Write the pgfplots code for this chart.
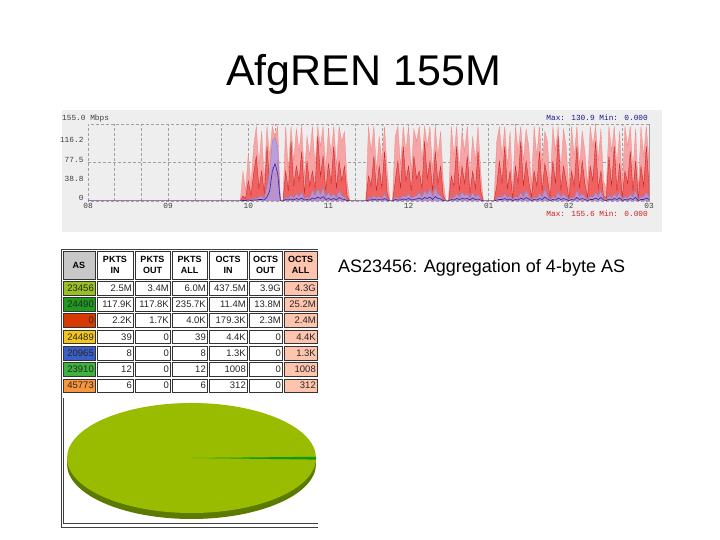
\documentclass[border=0pt]{standalone}
\usepackage{fontspec}
\setmainfont{Liberation Sans}
\newfontfamily\monof{Liberation Mono}
\usepackage{pgfplots}
\pgfplotsset{compat=1.18}
\usepackage{pgfplotstable}

\definecolor{chartbg}{HTML}{EEEEEE}
\definecolor{gridc}{HTML}{A0A0A0}
\definecolor{pinkf}{HTML}{F5A5A5}
\definecolor{redf}{HTML}{F06262}
\definecolor{redl}{HTML}{C82424}
\definecolor{bluef}{HTML}{AC9EEA}
\definecolor{bluel}{HTML}{3C1E96}
\definecolor{maxblue}{HTML}{1A1A8C}
\definecolor{maxred}{HTML}{CC2222}
\definecolor{asA}{HTML}{99C020}
\definecolor{asB}{HTML}{1F9A1F}
\definecolor{asC}{HTML}{D63A00}
\definecolor{asD}{HTML}{F5C518}
\definecolor{asE}{HTML}{3A5FC8}
\definecolor{asF}{HTML}{3CB33C}
\definecolor{asG}{HTML}{F7963C}
\definecolor{hdrgray}{HTML}{C8C8C8}
\definecolor{salmon}{HTML}{FFC4AE}
\definecolor{pietop}{HTML}{99BB00}
\definecolor{pieside}{HTML}{5C7A00}
\definecolor{slice}{HTML}{119911}

% minutes after 08:00; red max, red avg, blue max, blue avg (Mbps)
\pgfplotstableread{
t rmax ravg bmax bavg
0 0 0 0 0
114 0 0 0 0
116 60 10 2 1
118 20 5 1 1
120 95 40 4 2
122 30 12 2 1
124 110 55 6 2
126 150 90 5 2
128 70 25 8 3
130 140 60 10 3
132 40 15 5 2
134 150 110 30 8
136 90 35 60 20
138 150 70 120 60
140 130 50 128 75
142 150 80 110 55
144 0 0 0 0
146 0 0 0 0
148 150 60 8 3
150 60 20 5 2
152 150 120 12 4
154 80 30 6 2
156 145 70 15 5
158 100 40 9 3
160 150 100 18 6
162 50 15 5 2
164 130 80 8 3
166 90 30 6 2
168 150 60 22 6
170 70 25 11 4
172 150 130 25 8
174 110 50 14 5
176 150 90 28 9
178 60 20 8 3
180 145 75 18 5
182 95 35 9 3
184 150 110 15 5
186 70 25 6 2
188 150 80 22 7
190 120 40 11 4
192 140 70 8 3
194 40 10 3 1
196 0 0 0 0
208 0 0 0 0
210 150 50 6 2
212 100 30 5 2
214 150 90 11 4
216 60 20 6 2
218 130 70 9 3
220 80 25 5 2
222 150 100 15 5
224 60 15 4 2
226 0 0 0 0
228 0 0 0 0
230 130 40 8 3
232 150 80 6 2
234 70 25 5 2
236 150 110 11 4
238 100 40 8 3
240 150 70 15 5
242 60 20 6 2
244 145 90 9 3
246 120 45 11 4
248 150 60 18 6
250 80 25 8 3
252 150 120 22 7
254 110 45 13 5
256 150 80 25 8
258 60 20 9 3
260 150 100 28 9
262 90 35 14 5
264 140 70 11 4
266 40 10 3 1
268 0 0 0 0
270 0 0 0 0
272 150 50 8 3
274 90 30 6 2
276 150 110 15 5
278 60 20 8 3
280 140 70 18 5
282 100 35 11 4
284 150 90 15 5
286 50 15 5 2
288 130 60 18 6
290 80 25 8 3
292 150 100 13 4
294 60 20 5 2
296 0 0 0 0
304 0 0 0 0
306 120 30 6 2
308 150 80 9 3
310 90 35 8 3
312 150 110 15 5
314 70 25 6 2
316 140 60 11 4
318 20 5 3 1
320 150 70 9 3
322 100 35 6 2
324 150 120 18 6
326 80 30 8 3
328 145 80 22 7
330 110 40 11 4
332 30 8 3 1
334 150 60 8 3
336 90 30 6 2
338 150 100 15 5
340 70 20 8 3
342 140 75 25 8
344 120 45 11 4
346 25 6 3 1
348 150 80 9 3
350 100 35 6 2
352 150 130 18 6
354 60 20 8 3
356 145 70 15 5
358 110 40 9 3
360 20 5 3 1
362 150 60 8 3
364 90 30 6 2
366 150 110 22 7
368 70 25 9 3
370 140 80 15 5
372 100 35 8 3
374 30 8 3 1
376 150 70 9 3
378 110 40 8 3
380 150 120 18 6
382 80 25 9 3
384 145 60 22 7
386 40 10 4 2
388 25 6 3 1
390 150 90 11 4
392 100 30 6 2
394 150 110 15 5
396 70 20 8 3
398 140 75 18 6
400 30 8 3 1
402 150 60 9 3
404 110 35 6 2
406 150 100 15 5
408 60 20 8 3
410 145 80 22 7
412 20 5 3 1
414 150 70 9 3
416 90 30 8 3
418 150 110 18 6
420 80 30 8 3
}\traffic

\tikzset{
  cellline/.style={draw=black!80, line width=0.5pt},
  cellt/.style={anchor=east, inner sep=0.5pt, text=black!85, font=\fontsize{9.5}{10}\selectfont},
  hdrt/.style={align=center, inner sep=0pt, font=\bfseries\fontsize{9}{10.5}\selectfont}
}

\begin{document}
\begin{tikzpicture}
\path[use as bounding box, fill=white] (0,0) rectangle (720pt,540pt);
\begin{scope}[shift={(0pt,540pt)}, x=1pt, y=-1pt]
  % titles
  \node[anchor=base, inner sep=0pt, font=\fontsize{43}{50}\selectfont] at (363.5,86) {AfgREN 155M};
  \node[anchor=base west, inner sep=0pt, font=\fontsize{18}{21}\selectfont] at (338,273) {AS23456: Aggregation of 4-byte AS};
  % chart background
  \fill[chartbg] (62,110) rectangle (662,232);
  % outer frame of table and pie
  \draw[black!75, line width=0.5pt] (318,249) -- (61.5,249) -- (61.5,527) -- (318,527);
  \draw[black!75, line width=0.5pt] (63.5,398) -- (63.5,523.5) -- (318,523.5);
  % header row
  \filldraw[fill=hdrgray, cellline] (63,251) rectangle (95,279);
  \node[hdrt] at (79,265) {AS};
  \foreach \xl/\xr/\ha/\hb/\fc in {97/133/PKTS/IN/white, 135/170/PKTS/OUT/white,
      172/207/PKTS/ALL/white, 209/247/OCTS/IN/white, 249/282/OCTS/OUT/white,
      284/317/OCTS/ALL/salmon}{
    \filldraw[fill=\fc, cellline] (\xl,251) rectangle (\xr,279);
    \node[hdrt] at ({(\xl+\xr)/2},265) {\ha\\\hb};
  }
  % data rows
  \foreach \i/\asc/\xa/\xb/\xc/\xd/\xe/\xf/\xg in {
      0/asA/23456/2.5M/3.4M/6.0M/437.5M/3.9G/4.3G,
      1/asB/24490/117.9K/117.8K/235.7K/11.4M/13.8M/25.2M,
      2/asC/0/2.2K/1.7K/4.0K/179.3K/2.3M/2.4M,
      3/asD/24489/39/0/39/4.4K/0/4.4K,
      4/asE/20965/8/0/8/1.3K/0/1.3K,
      5/asF/23910/12/0/12/1008/0/1008,
      6/asG/45773/6/0/6/312/0/312}{
    \pgfmathsetmacro\ya{281+16.3*\i}
    \pgfmathsetmacro\yb{\ya+13.8}
    \pgfmathsetmacro\ym{\ya+6.9}
    \filldraw[fill=\asc, cellline] (63,\ya) rectangle (95,\yb);
    \node[cellt] at (94.5,\ym) {\xa};
    \filldraw[fill=white, cellline] (97,\ya) rectangle (133,\yb);
    \node[cellt] at (132.5,\ym) {\xb};
    \filldraw[fill=white, cellline] (135,\ya) rectangle (170,\yb);
    \node[cellt] at (169.5,\ym) {\xc};
    \filldraw[fill=white, cellline] (172,\ya) rectangle (207,\yb);
    \node[cellt] at (206.5,\ym) {\xd};
    \filldraw[fill=white, cellline] (209,\ya) rectangle (247,\yb);
    \node[cellt] at (246.5,\ym) {\xe};
    \filldraw[fill=white, cellline] (249,\ya) rectangle (282,\yb);
    \node[cellt] at (281.5,\ym) {\xf};
    \filldraw[fill=salmon, cellline] (284,\ya) rectangle (317,\yb);
    \node[cellt] at (316.5,\ym) {\xg};
  }
  % pie (4.3G of 4.33G is AS23456)
  \fill[pieside] (191.5,464) ellipse [x radius=124.5pt, y radius=55pt];
  \fill[pietop] (191.5,458) ellipse [x radius=124.5pt, y radius=55pt];
  \fill[slice] (191.5,458) -- (316,456.8) -- (316,459.6) -- cycle;
  % chart texts
  \node[anchor=west, inner sep=0pt, text=black!75, font=\monof\fontsize{7.8}{8}\selectfont] at (62,118) {155.0 Mbps};
  \node[anchor=east, inner sep=0pt, text=maxblue, font=\monof\fontsize{7.8}{8}\selectfont] at (648,118) {Max: 130.9 Min: 0.000};
  \node[anchor=east, inner sep=0pt, text=maxred, font=\monof\fontsize{7.8}{8}\selectfont] at (648,214) {Max: 155.6 Min: 0.000};
\end{scope}

\begin{axis}[
  at={(88pt,339pt)}, anchor=south west,
  scale only axis, width=561pt, height=77pt,
  xmin=0, xmax=420, ymin=0, ymax=155,
  axis line style={densely dashed, gridc, line width=0.5pt},
  xtick={0,60,...,420},
  xticklabels={08,09,10,11,12,01,02,03},
  minor xtick={20,40,...,400},
  xmajorgrids, xminorgrids,
  ytick={0,38.8,77.5,116.2},
  yticklabels={0,38.8,77.5,116.2},
  extra y ticks={77.5}, extra y tick labels={},
  extra y tick style={ymajorgrids=true},
  grid style={densely dashed, gridc, line width=0.45pt},
  major tick length=0pt, minor tick length=0pt,
  tick label style={font=\monof\fontsize{7.8}{8}\selectfont, text=black!75},
  yticklabel style={yshift=3pt, xshift=-1pt},
  xticklabel style={yshift=1pt},
]
\addplot[fill=pinkf, draw=pinkf!80!red, line width=0.3pt] table[x=t, y=rmax] {\traffic} \closedcycle;
\addplot[fill=redf, draw=redl, line width=0.35pt] table[x=t, y=ravg] {\traffic} \closedcycle;
\addplot[fill=bluef, fill opacity=0.8, draw=bluef!80!black, line width=0.3pt] table[x=t, y=bmax] {\traffic} \closedcycle;
\addplot[draw=bluel, line width=0.6pt] table[x=t, y=bavg] {\traffic};
\addplot[draw=redl!70!black, line width=0.6pt] coordinates {(0,0) (420,0)};
\end{axis}
\end{tikzpicture}
\end{document}
